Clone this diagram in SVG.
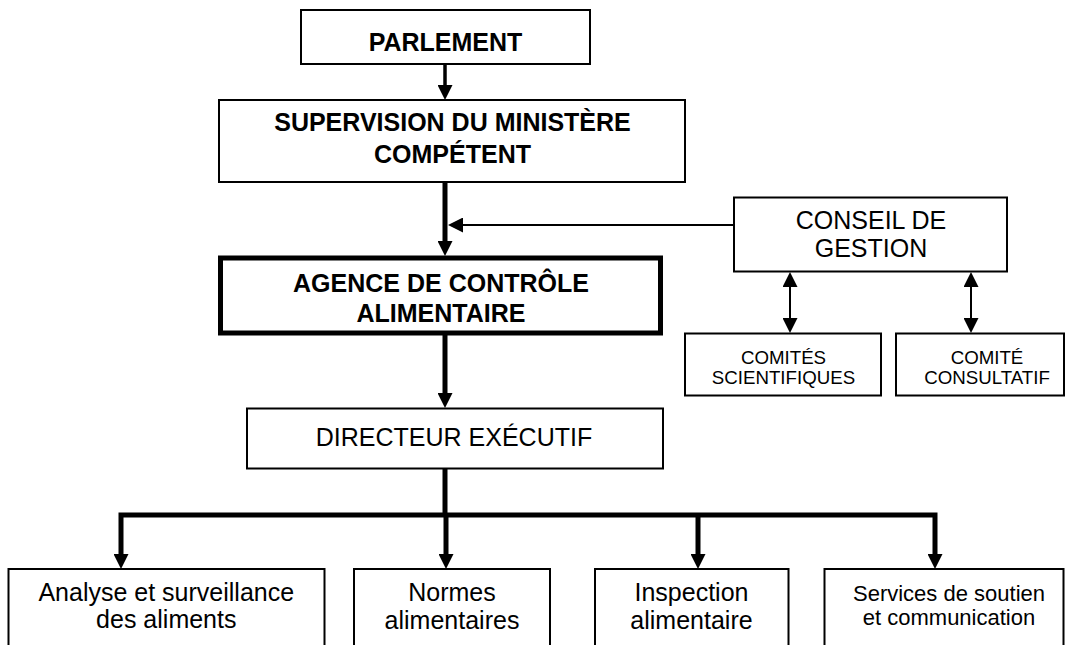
<svg xmlns="http://www.w3.org/2000/svg" width="1065" height="645" viewBox="0 0 1065 645">
<style>
.box{fill:#fff;stroke:#000;stroke-width:2}
.thickbox{fill:#fff;stroke:#000;stroke-width:5}
text{font-family:"Liberation Sans",Arial,sans-serif;fill:#000;text-anchor:middle}
.b{font-weight:bold;font-size:25px}
.r{font-size:25px}
.s{font-size:18.7px}
.m{font-size:22px}
.thick{stroke:#000;stroke-width:5;fill:none}
.med{stroke:#000;stroke-width:3.5;fill:none}
.thin{stroke:#000;stroke-width:2;fill:none}
</style>
<defs>
<marker id="ah" viewBox="0 0 15 15" refX="0" refY="7.5" markerWidth="15" markerHeight="15" markerUnits="userSpaceOnUse" orient="auto-start-reverse">
<path d="M0,0 L15,7.5 L0,15 z" fill="#000"/>
</marker>
</defs>
<rect width="1065" height="645" fill="#fff"/>
<g id="connectors">
<line class="med" x1="445" y1="64" x2="445" y2="85" marker-end="url(#ah)"/>
<line class="thick" x1="445" y1="182" x2="445" y2="241" marker-end="url(#ah)"/>
<line class="thin" x1="734" y1="225" x2="463" y2="225" marker-end="url(#ah)"/>
<line class="thick" x1="445" y1="335" x2="445" y2="393" marker-end="url(#ah)"/>
<line class="thin" x1="790" y1="287" x2="790" y2="318" marker-start="url(#ah)" marker-end="url(#ah)"/>
<line class="thin" x1="971" y1="287" x2="971" y2="318" marker-start="url(#ah)" marker-end="url(#ah)"/>
<line class="thick" x1="445" y1="468" x2="445" y2="515"/>
<path class="thick" d="M121,554 V515 H935 V554" marker-start="url(#ah)" marker-end="url(#ah)" style="stroke-linejoin:miter"/>
<line class="thick" x1="446" y1="515" x2="446" y2="554" marker-end="url(#ah)"/>
<line class="thick" x1="698" y1="515" x2="698" y2="554" marker-end="url(#ah)"/>
</g>
<g id="parlement">
<rect class="box" x="301" y="10" width="289" height="54"/>
<text class="b" x="445.5" y="51">PARLEMENT</text>
</g>
<g id="supervision">
<rect class="box" x="219" y="100" width="466" height="82"/>
<text class="b" x="452.5" y="131">SUPERVISION DU MINISTÈRE</text>
<text class="b" x="452.5" y="163">COMPÉTENT</text>
</g>
<g id="agence">
<rect class="thickbox" x="220.5" y="258" width="440" height="75"/>
<text class="b" x="441" y="291.5">AGENCE DE CONTRÔLE</text>
<text class="b" x="441" y="321.5">ALIMENTAIRE</text>
</g>
<g id="conseil">
<rect class="box" x="734" y="197.5" width="273" height="74"/>
<text class="r" x="871" y="228.5">CONSEIL DE</text>
<text class="r" x="871" y="256.5">GESTION</text>
</g>
<g id="comites-scientifiques">
<rect class="box" x="685" y="333.5" width="196" height="62"/>
<text class="s" x="783.5" y="363.5">COMITÉS</text>
<text class="s" x="783.5" y="384">SCIENTIFIQUES</text>
</g>
<g id="comite-consultatif">
<rect class="box" x="896" y="333.5" width="168" height="62"/>
<text class="s" x="987" y="363.5">COMITÉ</text>
<text class="s" x="987" y="384">CONSULTATIF</text>
</g>
<g id="directeur">
<rect class="box" x="247" y="408.5" width="416" height="60"/>
<text class="r" x="454" y="445.5">DIRECTEUR EXÉCUTIF</text>
</g>
<g id="analyse">
<rect class="box" x="8.5" y="569" width="316" height="90"/>
<text class="r" x="166.3" y="600.7">Analyse et surveillance</text>
<text class="r" x="166.3" y="627.7">des aliments</text>
</g>
<g id="normes">
<rect class="box" x="354" y="569" width="196" height="90"/>
<text class="r" x="452" y="601">Normes</text>
<text class="r" x="452" y="628.5">alimentaires</text>
</g>
<g id="inspection">
<rect class="box" x="595" y="569" width="193.5" height="90"/>
<text class="r" x="691.5" y="601">Inspection</text>
<text class="r" x="691.5" y="628.5">alimentaire</text>
</g>
<g id="services">
<rect class="box" x="824.5" y="569" width="239" height="90"/>
<text class="m" x="949" y="600.7">Services de soutien</text>
<text class="m" x="949" y="625">et communication</text>
</g>
</svg>
